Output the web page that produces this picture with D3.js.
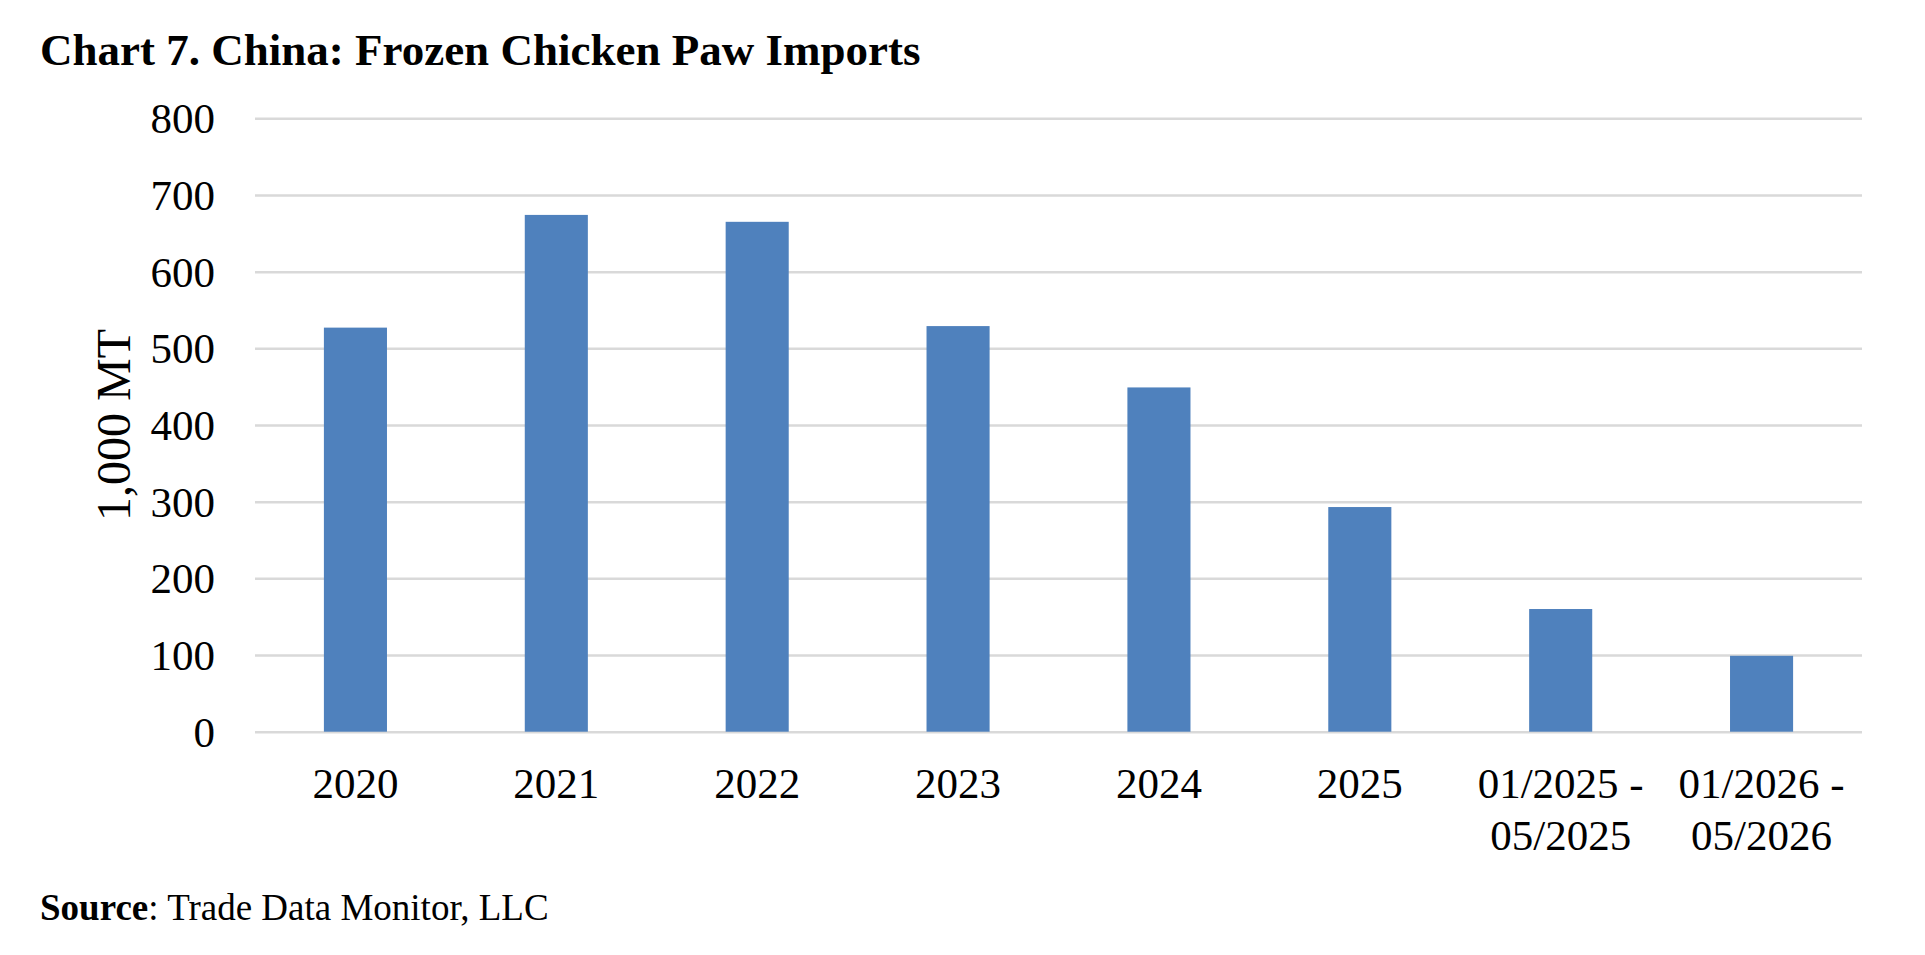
<!DOCTYPE html>
<html>
<head>
<meta charset="utf-8">
<script src="https://cdn.jsdelivr.net/npm/d3@7"></script>
<style>
  body { margin: 0; background: #fff; }
  svg text { font-family: "Liberation Serif", "Times New Roman", serif; fill: #000; }
</style>
</head>
<body>
<svg id="chart" width="1925" height="955"></svg>
<script>
// data (1,000 MT)
var categories = ["2020", "2021", "2022", "2023", "2024", "2025", "01/2025 -|05/2025", "01/2026 -|05/2026"];
var imports = [527, 674, 665, 529, 449, 293, 160, 99];
var yTicks = [0, 100, 200, 300, 400, 500, 600, 700, 800];

var plotLeft = 255, plotRight = 1862, plotTop = 118.3, plotBottom = 731.7;

var svg = d3.select("#chart");

var x = d3.scaleBand()
    .domain(categories)
    .range([plotLeft, plotRight])
    .paddingInner(0.686)
    .paddingOuter(0.343);

var y = d3.scaleLinear()
    .domain([0, 800])
    .range([plotBottom, plotTop]);

// title
svg.append("text")
    .attr("x", 40)
    .attr("y", 65)
    .style("font-size", "45px")
    .style("font-weight", "bold")
    .text("Chart 7. China: Frozen Chicken Paw Imports");

// gridlines + y labels
var yAxis = d3.axisLeft(y)
    .tickValues(yTicks)
    .tickSize(-(plotRight - plotLeft))
    .tickPadding(40);

var gy = svg.append("g")
    .attr("transform", "translate(" + plotLeft + ",0)")
    .call(yAxis);
gy.select(".domain").remove();
gy.selectAll(".tick line")
    .attr("stroke", "#d9d9d9")
    .attr("stroke-width", 2.5);
gy.selectAll(".tick text")
    .style("font-size", "43px")
    .attr("dy", "0.34em");

// bars
svg.append("g").selectAll("rect")
    .data(imports)
    .enter()
    .append("rect")
    .attr("x", function(d, i) { return x(categories[i]); })
    .attr("y", function(d) { return y(d); })
    .attr("width", x.bandwidth())
    .attr("height", function(d) { return y(0) - y(d); })
    .attr("fill", "#4f81bd");

// x labels (two lines where needed)
var xl = svg.append("g").selectAll("text")
    .data(categories)
    .enter()
    .append("text")
    .attr("text-anchor", "middle")
    .style("font-size", "43px")
    .attr("y", 798);
xl.each(function(d) {
    var lines = d.split("|");
    var cx = x(d) + x.bandwidth() / 2;
    var t = d3.select(this);
    lines.forEach(function(l, j) {
        t.append("tspan")
            .attr("x", cx)
            .attr("dy", j === 0 ? 0 : 52)
            .text(l);
    });
});

// y axis title
svg.append("text")
    .attr("transform", "translate(130," + ((plotTop + plotBottom) / 2) + ") rotate(-90)")
    .attr("text-anchor", "middle")
    .style("font-size", "48px")
    .text("1,000 MT");

// source
var src = svg.append("text")
    .attr("x", 40)
    .attr("y", 920)
    .style("font-size", "37px");
src.append("tspan").style("font-weight", "bold").text("Source");
src.append("tspan").text(": Trade Data Monitor, LLC");
</script>
</body>
</html>
